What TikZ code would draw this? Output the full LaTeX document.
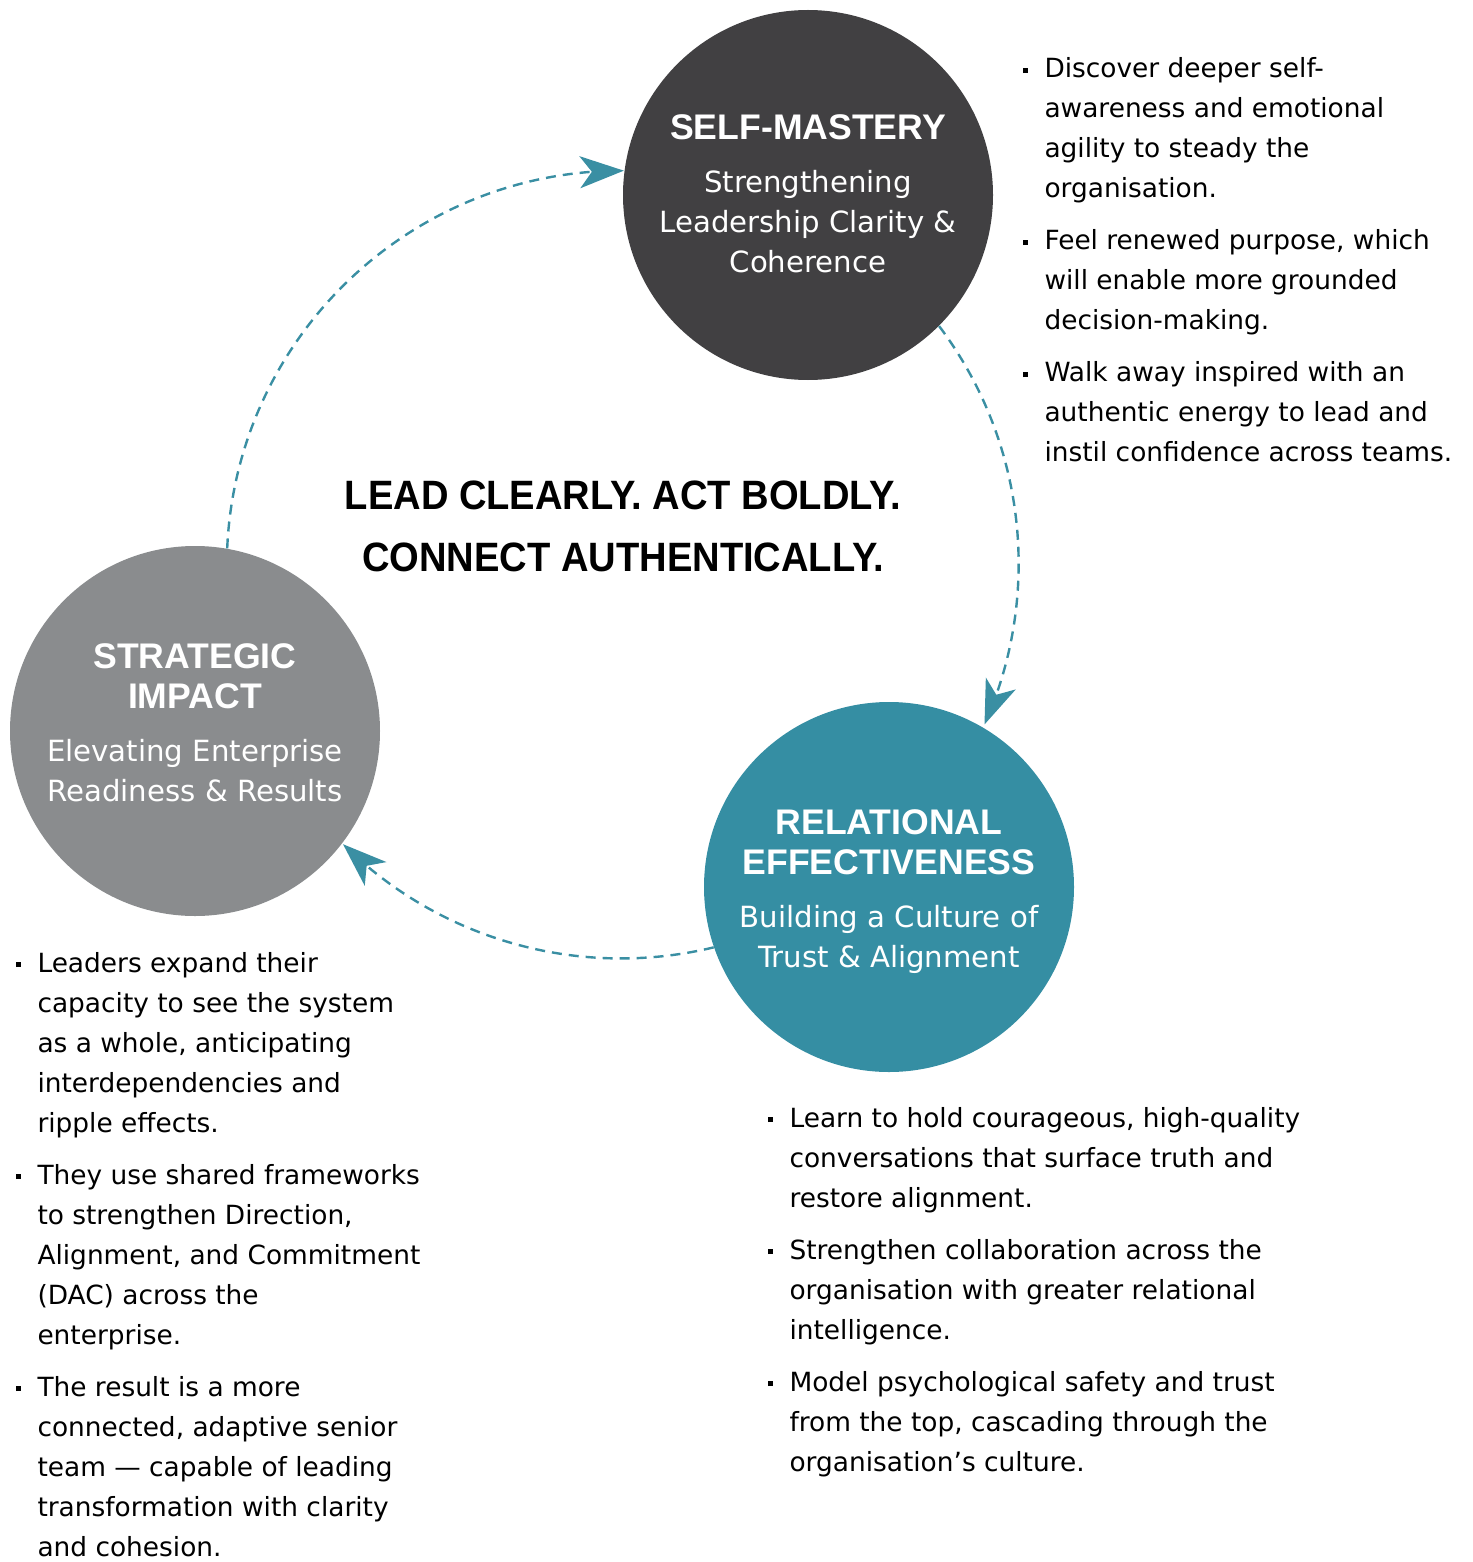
\documentclass[tikz,border=0pt]{standalone}
\usepackage{fontspec}
\setmainfont{DejaVu Sans}
\newfontfamily\headfont{Liberation Sans}
\newfontfamily\mottofont{Liberation Sans}[FakeStretch=0.93]
\usetikzlibrary{arrows.meta,bending}
\definecolor{darkdisc}{HTML}{414042}
\definecolor{greydisc}{HTML}{8A8C8E}
\definecolor{tealdisc}{HTML}{358EA3}
\definecolor{flowteal}{HTML}{3A8FA3}
\newcommand{\dischead}{\headfont\bfseries\fontsize{17.8}{20}\selectfont}
\newcommand{\sqbullet}{\rule[2.4pt]{2.6pt}{2.6pt}}

\begin{document}
\begin{tikzpicture}[
        x=0.5pt, y=0.5pt,
        disc/.style={circle, minimum size=185pt, inner sep=0pt},
        disctext/.style={align=center, inner sep=0pt, text=white, font=\fontsize{14.6}{20}\selectfont},
        flow/.style={draw=flowteal, line width=1.2pt, dash pattern=on 5pt off 3.5pt,
            -{Stealth[length=22pt, width=16pt, inset=6pt]}},
        points/.style={anchor=base west, inner sep=0pt, font=\fontsize{13.2}{20}\selectfont},
        motto/.style={align=center, inner sep=0pt, font=\mottofont\bfseries\fontsize{20.5}{31}\selectfont}
        ]
    \useasboundingbox (0,0) rectangle (1472,-1562);

    \node[disc, fill=darkdisc] (sm) at (808,-195) {};
    \node[disc, fill=greydisc] (si) at (195,-731) {};
    \node[disc, fill=tealdisc] (re) at (889,-887) {};

    \node[disctext] (smtext) at ([yshift=0.5pt]sm.center)
        {{\dischead SELF-MASTERY}\\[6.5pt]
        Strengthening\\ Leadership Clarity \&\\ Coherence};
    \node[disctext] (sitext) at ([yshift=4pt]si.center)
        {{\dischead STRATEGIC}\\ {\dischead IMPACT}\\[6.5pt]
        Elevating Enterprise\\ Readiness \& Results};
    \node[disctext] (retext) at ([yshift=-2.5pt]re.center)
        {{\dischead RELATIONAL}\\ {\dischead EFFECTIVENESS}\\[6.5pt]
        Building a Culture of\\ Trust \& Alignment};

    \node[motto] (lead) at (623,-526) {LEAD CLEARLY. ACT BOLDLY.\\ CONNECT AUTHENTICALLY.};

    \draw[flow] (si.80) arc[start angle=177.5, end angle=89.7, radius=395];
    \draw[flow] (sm.-45) arc[start angle=37, end angle=-24, radius=395];
    \draw[flow] (re.199.4) arc[start angle=-76.4, end angle=-134.7, radius=395];

    \node[points] (smpoints) at (1022.5,-78) {\begin{tabular}[t]{@{}l@{\hspace{8.2pt}}l@{}}
        \sqbullet & Discover deeper self-\\
                  & awareness and emotional\\
                  & agility to steady the\\
                  & organisation.\\[6pt]
        \sqbullet & Feel renewed purpose, which\\
                  & will enable more grounded\\
                  & decision-making.\\[6pt]
        \sqbullet & Walk away inspired with an\\
                  & authentic energy to lead and\\
                  & instil confidence across teams.
        \end{tabular}};
    \node[points] (sipoints) at (15.5,-972) {\begin{tabular}[t]{@{}l@{\hspace{8.2pt}}l@{}}
        \sqbullet & Leaders expand their\\
                  & capacity to see the system\\
                  & as a whole, anticipating\\
                  & interdependencies and\\
                  & ripple effects.\\[6pt]
        \sqbullet & They use shared frameworks\\
                  & to strengthen Direction,\\
                  & Alignment, and Commitment\\
                  & (DAC) across the\\
                  & enterprise.\\[6pt]
        \sqbullet & The result is a more\\
                  & connected, adaptive senior\\
                  & team --- capable of leading\\
                  & transformation with clarity\\
                  & and cohesion.
        \end{tabular}};
    \node[points] (repoints) at (767.5,-1127) {\begin{tabular}[t]{@{}l@{\hspace{8.2pt}}l@{}}
        \sqbullet & Learn to hold courageous, high-quality\\
                  & conversations that surface truth and\\
                  & restore alignment.\\[6pt]
        \sqbullet & Strengthen collaboration across the\\
                  & organisation with greater relational\\
                  & intelligence.\\[6pt]
        \sqbullet & Model psychological safety and trust\\
                  & from the top, cascading through the\\
                  & organisation’s culture.
        \end{tabular}};
\end{tikzpicture}
\end{document}
